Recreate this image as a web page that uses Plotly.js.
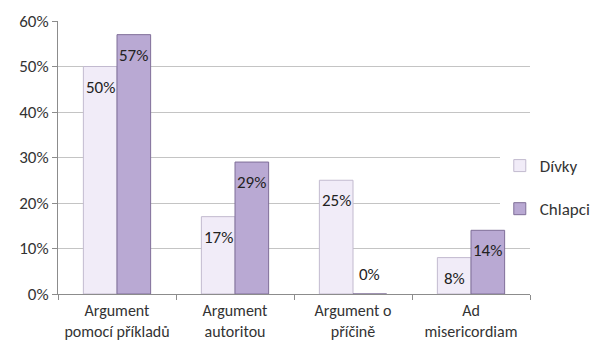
<!DOCTYPE html>
<html>
<head>
<meta charset="utf-8">
<script src="https://cdn.plot.ly/plotly-3.0.1.min.js"></script>
<style>
  html, body { margin: 0; padding: 0; background: #fff; }
  #chart { width: 596px; height: 342px; }
</style>
</head>
<body>
<div id="chart"></div>
<script>
// Argument types, with line breaks for the two-line axis labels
const categories = ['Argument<br>pomocí příkladů', 'Argument<br>autoritou', 'Argument o<br>příčině', 'Ad<br>misericordiam'];
const seriesNames = ['Dívky', 'Chlapci'];
const divky = [50, 17, 25, 8];
const chlapci = [57, 29, 0, 14];
const yTicks = [0, 10, 20, 30, 40, 50, 60];

const FONT = 'Carlito, Lato, "Liberation Sans", sans-serif';
const FS = 17;
const bargap = 0.43;
const halfBar = (1 - bargap) / 4;   // offset of each bar centre from the category centre

const colors = {
  girls: { fill: '#F1ECF8', line: '#C2BACF' },
  boys:  { fill: '#B9A9D3', line: '#7F6E98' }
};

const traces = [
  {
    type: 'bar', name: seriesNames[0], x: categories, y: divky,
    legendgroup: 'g1',
    marker: { color: colors.girls.fill, line: { color: colors.girls.line, width: 1 } },
    hoverinfo: 'skip'
  },
  {
    type: 'bar', name: seriesNames[1], x: categories, y: chlapci,
    legendgroup: 'g2',
    marker: { color: colors.boys.fill, line: { color: colors.boys.line, width: 1 } },
    hoverinfo: 'skip'
  }
];

// Value labels just inside the top of each bar (above the baseline for zero bars)
const annotations = [];
[divky, chlapci].forEach((vals, s) => {
  const dx = s === 0 ? -halfBar : halfBar;
  vals.forEach((v, i) => {
    annotations.push({
      xref: 'x', yref: 'y', x: i + dx, y: v,
      text: v + '%', showarrow: false,
      yanchor: v > 0 ? 'top' : 'bottom',
      yshift: v > 0 ? -8 : 7,
      font: { family: FONT, size: FS, color: '#222' }
    });
  });
});

const layout = {
  width: 596, height: 342,
  margin: { l: 58, r: 66, t: 21, b: 48, autoexpand: false },
  paper_bgcolor: '#fff', plot_bgcolor: '#fff',
  barmode: 'group', bargap: bargap, bargroupgap: 0,
  showlegend: true,
  legend: {
    x: 0.936, xanchor: 'left', y: 0.39, yanchor: 'middle',
    tracegroupgap: 18, itemwidth: 30,
    font: { family: FONT, size: FS, color: '#333' }
  },
  xaxis: {
    type: 'category', tickson: 'boundaries', tickangle: 0,
    ticks: 'outside', ticklen: 5, tickcolor: '#8C8C8C',
    ticklabelstandoff: 2,
    showline: true, linecolor: '#8C8C8C', linewidth: 1,
    showgrid: false,
    tickfont: { family: FONT, size: 16, color: '#333' }
  },
  yaxis: {
    range: [0, 60], tickvals: yTicks, ticktext: yTicks.map(t => t + '%'),
    ticks: 'outside', ticklen: 5, tickcolor: '#8C8C8C',
    showline: true, linecolor: '#8C8C8C', linewidth: 1,
    showgrid: true, gridcolor: '#C4C4C4', gridwidth: 1,
    zeroline: false,
    tickfont: { family: FONT, size: FS, color: '#333' }
  },
  annotations: annotations
};

Plotly.newPlot('chart', traces, layout, { displayModeBar: false, staticPlot: true });
</script>
</body>
</html>
